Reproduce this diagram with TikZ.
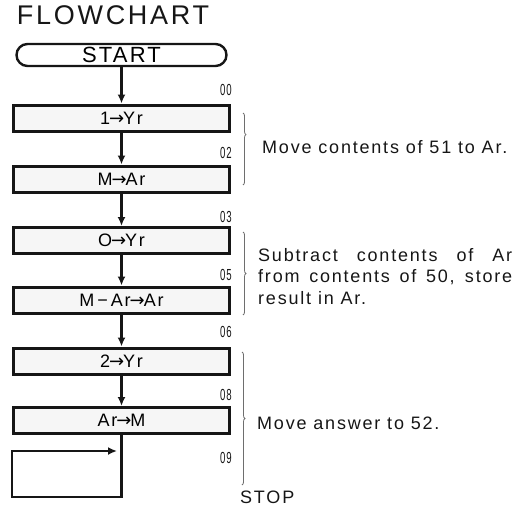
\documentclass[tikz,border=0pt]{standalone}
\usepackage{fontspec}
\setmainfont{Liberation Sans}[LetterSpace=10]
\newfontfamily\arrowfont{DejaVu Sans}
\newcommand{\into}{{\arrowfont\fontsize{18}{18}\selectfont\kern-1pt →\kern-1pt}}
\usetikzlibrary{arrows.meta,calc,positioning,decorations.pathreplacing}

\begin{document}
\begin{tikzpicture}[
    x=1pt,
    y=-1pt,
    >=Latex,
    flow/.style={draw=ink, line width=2.2pt, -{Latex[length=9pt,width=8pt]}},
    stepbox/.style={
        draw=ink,
        fill=boxfill,
        line width=3pt,
        minimum width=216pt,
        minimum height=26pt,
        inner sep=0pt,
        font=\fontsize{18}{20}\selectfont
    },
    terminal/.style={
        draw=ink,
        line width=2.4pt,
        rounded corners=11pt,
        minimum width=210pt,
        minimum height=22pt,
        inner sep=0pt,
        font=\fontsize{22}{26}\selectfont
    },
    addr/.style={anchor=east, inner sep=0pt, text=ink, font=\fontsize{16}{16}\selectfont},
    note/.style={anchor=west, inner sep=0pt, text=ink, font=\fontsize{18}{21.5}\selectfont},
    group/.style={draw=bracegrey, line width=0.8pt, decorate, decoration={brace, amplitude=3pt, #1}},
    group/.default={aspect=0.5}
]

\definecolor{ink}{RGB}{22,22,22}
\definecolor{boxfill}{RGB}{246,246,246}
\definecolor{bracegrey}{RGB}{110,110,110}

\path[use as bounding box] (0,0) rectangle (518,508);

% Title and start terminal.
\node[font=\fontsize{27}{30}\selectfont, text=ink, inner sep=0pt] (title) at (113,15) {FLOWCHART};
\node[terminal] (start) at (121.5,55) {START};

% Program steps.
\node[stepbox] (b1) at (121.5,118) {1\into Yr};
\node[stepbox] (b2) at (121.5,179) {M\into Ar};
\node[stepbox] (b3) at (121.5,240.5) {O\into Yr};
\node[stepbox] (b4) at (121.5,300) {M\,−\,Ar\into Ar};
\node[stepbox] (b5) at (121.5,361) {2\into Yr};
\node[stepbox] (b6) at (121.5,420.5) {Ar\into M};

\draw[flow] (start.south) -- (b1.north);
\draw[flow] (b1.south) -- (b2.north);
\draw[flow] (b2.south) -- (b3.north);
\draw[flow] (b3.south) -- (b4.north);
\draw[flow] (b4.south) -- (b5.north);
\draw[flow] (b5.south) -- (b6.north);

% Halt loop back onto itself.
\coordinate (loopcorner) at (12,497);
\coordinate (loopend) at (117,451);
\draw[flow, line join=miter] (b6.south) |- (loopcorner) |- (loopend);

% Step addresses.
\foreach \name/\yy/\num in {a00/90/00, a02/153/02, a03/217/03, a05/275/05, a06/332/06, a08/395/08, a09/458/09} {
    \node[addr] (\name) at (232,\yy) {\scalebox{0.6}[1]{\num}};
}

% Braces and remarks.
\draw[group={aspect=0.3}] (243,113) -- (243,185);
\draw[group] (243,232) -- (243,315);
\draw[group] (242,352) -- (242,485);

\node[note] (n1) at (262,147) {Move contents of 51 to Ar.};
\node[note, anchor=north west, text width=254pt, align=justify] (n2) at (258,248)
    {Subtract contents of Ar\linebreak from contents of 50, store\linebreak result in Ar.};
\node[note] (n3) at (257,423) {Move answer to 52.};
\node[note] (stop) at (240,497) {STOP};

\end{tikzpicture}
\end{document}
